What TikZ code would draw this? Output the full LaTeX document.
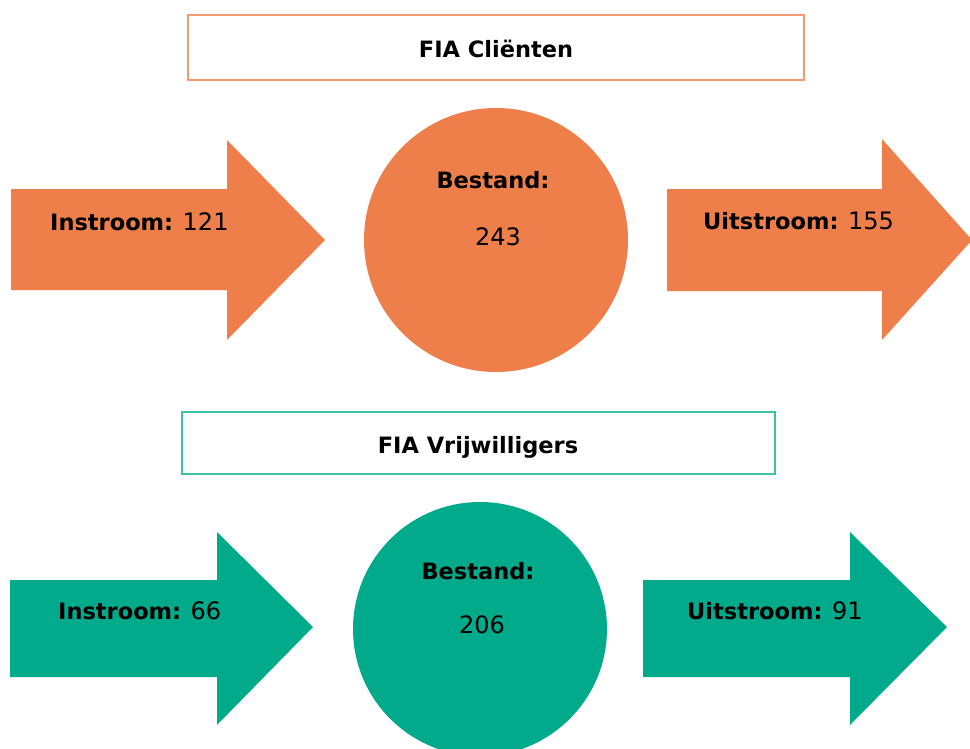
\documentclass[tikz,border=0pt]{standalone}
\usepackage{fontspec}
\setmainfont{DejaVu Sans}
\definecolor{orangefill}{HTML}{EE7F4B}
\definecolor{orangeline}{HTML}{F2996F}
\definecolor{tealfill}{HTML}{00AA8A}
\definecolor{tealline}{HTML}{3DC2A6}
\newcommand{\numtxt}[1]{{\fontsize{24}{26}\selectfont #1}}
\tikzset{
  lbl/.style={inner sep=0pt, font=\fontsize{22.5}{25}\selectfont, text=black},
  titlebox/.style={fill=white, line width=2pt},
}
\begin{document}
\begin{tikzpicture}[x=1pt,y=-1pt]
\useasboundingbox (0,0) rectangle (970,748);
\fill[white] (0,0) rectangle (970,748);
% ---------- top group (orange)
\draw[titlebox, draw=orangeline] (188,15) rectangle (804,80);
\node[lbl, anchor=base] (t1) at (496,57) {\textbf{FIA Cliënten}};
\fill[orangefill] (11,189) -- (227,189) -- (227,140) -- (325,240) -- (227,340) -- (227,290) -- (11,290) -- cycle;
\node[lbl, anchor=base west] (in1) at (50,230) {\textbf{Instroom:} \numtxt{121}};
\fill[orangefill] (496,240) circle[radius=132];
\node[lbl, anchor=base] (b1) at (493,188) {\textbf{Bestand:}};
\node[lbl, anchor=base] (v1) at (498,245) {\numtxt{243}};
\fill[orangefill] (667,189) -- (882,189) -- (882,139) -- (972,240) -- (882,340) -- (882,291) -- (667,291) -- cycle;
\node[lbl, anchor=base west] (out1) at (703,229) {\textbf{Uitstroom:} \numtxt{155}};
% ---------- bottom group (teal)
\draw[titlebox, draw=tealline] (182,412) rectangle (775,474);
\node[lbl, anchor=base] (t2) at (478,453) {\textbf{FIA Vrijwilligers}};
\fill[tealfill] (10,580) -- (217,580) -- (217,532) -- (313,627) -- (217,725) -- (217,677) -- (10,677) -- cycle;
\node[lbl, anchor=base west] (in2) at (58,619) {\textbf{Instroom:} \numtxt{66}};
\fill[tealfill] (480,629) circle[radius=127];
\node[lbl, anchor=base] (b2) at (478,579) {\textbf{Bestand:}};
\node[lbl, anchor=base] (v2) at (482,633) {\numtxt{206}};
\fill[tealfill] (643,580) -- (850,580) -- (850,532) -- (947,627) -- (850,725) -- (850,677) -- (643,677) -- cycle;
\node[lbl, anchor=base west] (out2) at (687,619) {\textbf{Uitstroom:} \numtxt{91}};
\end{tikzpicture}
\end{document}
